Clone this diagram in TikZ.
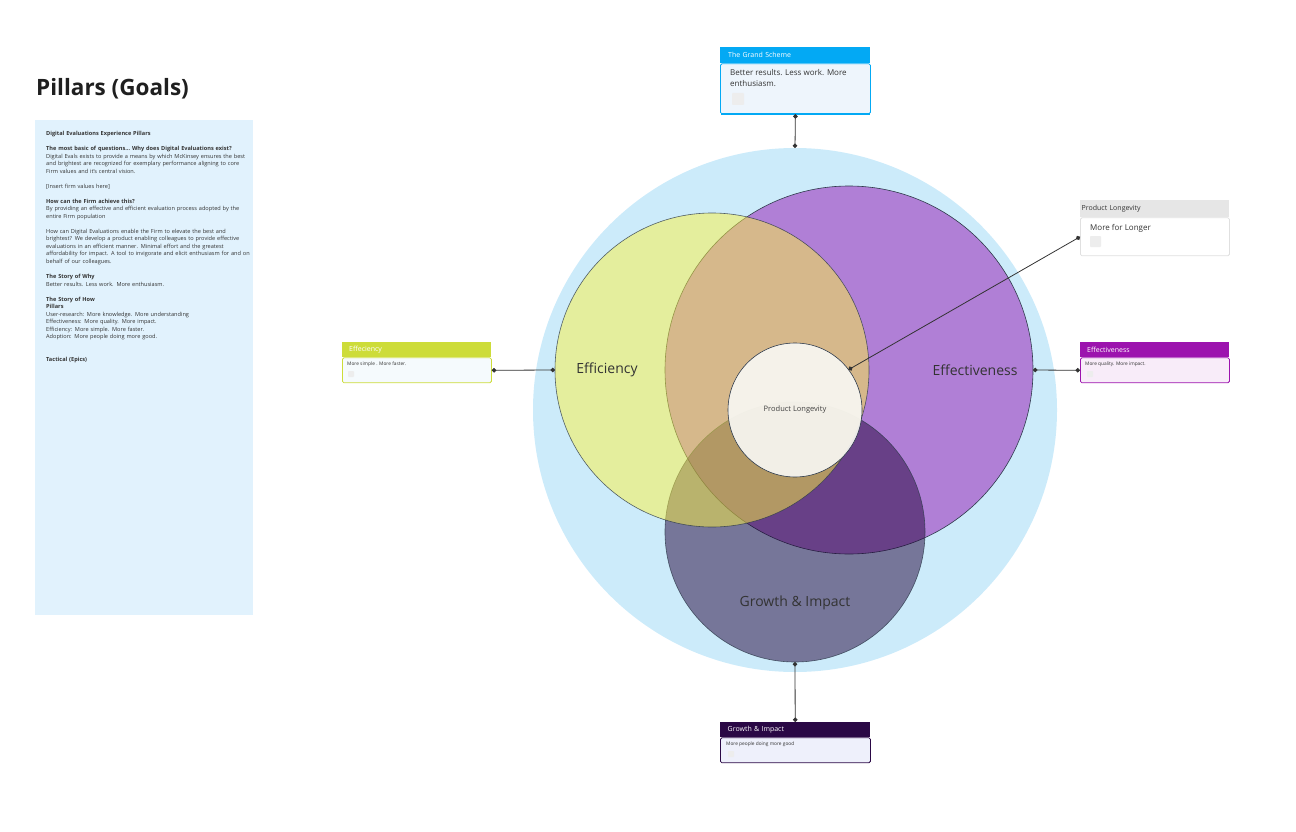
\documentclass[tikz,border=0pt]{standalone}
\usepackage{fontspec}
\setmainfont{Open Sans}
\usetikzlibrary{arrows.meta,positioning}
\definecolor{sky}{HTML}{CCEBFA}
\definecolor{lilac}{HTML}{B07FD6}
\definecolor{lime}{HTML}{FCF142}
\definecolor{plum}{HTML}{22033A}
\definecolor{ink}{HTML}{333333}
\definecolor{rim}{HTML}{2F3B4C}
\definecolor{panel}{HTML}{E1F2FD}
\definecolor{blueHead}{HTML}{03A9F4}
\definecolor{limeHead}{HTML}{CDDC39}
\definecolor{purpleHead}{HTML}{9C13AE}
\definecolor{plumHead}{HTML}{2A0845}
\definecolor{greyHead}{HTML}{E6E6E6}
\definecolor{blueBody}{HTML}{EEF5FC}
\definecolor{limeBody}{HTML}{F5FAFD}
\definecolor{purpleBody}{HTML}{F8ECF9}
\definecolor{plumBody}{HTML}{EEF0FB}
\definecolor{core}{HTML}{F8F7F3}

\begin{document}
\begin{tikzpicture}[x=1pt,y=-1pt,
  ring/.style={circle,draw=rim,line width=0.6pt,inner sep=0pt,outer sep=0pt,minimum size=#1},
  pillar/.style={font=\fontsize{14}{16}\selectfont,text=ink},
  head/.style={fill=#1,anchor=north west,minimum height=15pt,inner ysep=0pt,
    inner xsep=7pt,text width=135pt,align=left,text=white,font=\fontsize{7}{8}\selectfont},
  card/.style={draw=#1,line width=0.8pt,anchor=north west,minimum width=149pt,
    minimum height=25pt,inner sep=0pt,rounded corners=1.5pt},
  note/.style={anchor=north west,inner sep=0pt,text=ink,align=left,
    font=\fontsize{4.8}{5.5}\selectfont},
  chip/.style={fill=black!7,rounded corners=0.8pt},
  link/.style={draw=ink,line width=0.8pt,{Circle[length=4.5pt]}-{Circle[length=4.5pt]}},
]
\path[use as bounding box] (0,0) rectangle (1296,832);

% left brief
\node[anchor=base west,inner sep=0pt,text=black!88,
  font=\fontsize{22.5}{26}\selectfont\bfseries] (title) at (36,96) {Pillars (Goals)};
\fill[panel] (35,120) rectangle (253,615);
\node[anchor=north west,inner sep=0pt,text width=205pt,align=left,text=ink,
  font=\fontsize{5.6}{7.53}\selectfont] (brief) at (46,131) {%
  \textbf{Digital Evaluations Experience Pillars}\\[7.53pt]
  \textbf{The most basic of questions… Why does Digital Evaluations exist?}\\
  Digital Evals exists to provide a means by which McKinsey ensures the best\\
  and brightest are recognized for exemplary performance aligning to core\\
  Firm values and it's central vision.\\[7.53pt]
  [Insert firm values here]\\[7.53pt]
  \textbf{How can the Firm achieve this?}\\
  By providing an effective and efficient evaluation process adopted by the\\
  entire Firm population\\[7.53pt]
  How can Digital Evaluations enable the Firm to elevate the best and\\
  brightest? We develop a product enabling colleagues to provide effective\\
  evaluations in an efficient manner. Minimal effort and the greatest\\
  affordability for impact. A tool to invigorate and elicit enthusiasm for and on\\
  behalf of our colleagues.\\[7.53pt]
  \textbf{The Story of Why}\\
  Better results. Less work. More enthusiasm.\\[7.53pt]
  \textbf{The Story of How}\\
  \textbf{Pillars}\\
  User-research: More knowledge. More understanding\\
  Effectiveness: More quality. More impact.\\
  Efficiency: More simple. More faster.\\
  Adoption: More people doing more good.\\[15.06pt]
  \textbf{Tactical (Epics)}};

% circles
\node[ring=524pt,draw=none,fill=sky] (scheme) at (795,410) {};
\node[ring=368pt,fill=lilac] (effect) at (849,370) {};
\node[ring=260pt,fill=plum,fill opacity=0.5,draw opacity=0.8] (growth) at (795,532) {};
\node[ring=314pt,fill=lime,fill opacity=0.5,draw opacity=0.8] (effic) at (712,370) {};
\node[ring=134pt,fill=core,fill opacity=0.92,text=ink,
  font=\fontsize{7.5}{9}\selectfont] (core) at (795,410) {Product Longevity};
\node[pillar] (efficLbl) at (607,370) {Efficiency};
\node[pillar] (effectLbl) at (975,370) {Effectiveness};
\node[pillar] (growthLbl) at (795,603) {Growth \& Impact};

% the grand scheme
\node[head=blueHead,minimum height=16pt,inner xsep=8pt,text width=134pt] (grandHead) at (720,47) {The Grand Scheme};
\node[card=blueHead,fill=blueBody,minimum width=150pt,minimum height=50pt] (grandBody) at (grandHead.south west) {};
\draw[blueHead,line width=1.6pt] ([xshift=1pt]grandBody.south west) -- ([xshift=-1pt]grandBody.south east);
\node[note,font=\fontsize{8}{11}\selectfont,below right=6pt and 10pt of grandBody.north west] (grandText) {Better results. Less work. More\\enthusiasm.};
\fill[chip] (732,93) rectangle ++(12,12);

% product longevity
\node[head=greyHead,minimum height=17pt,inner xsep=1.5pt,text width=146pt,text=ink] (plHead) at (1080,200) {Product Longevity};
\node[card=black!12,fill=white,minimum height=38pt] (plBody) at (plHead.south west) {};
\node[note,font=\fontsize{8}{10}\selectfont,below right=6.5pt and 10pt of plBody.north west] (plText) {More for Longer};
\fill[chip] (1090,236) rectangle ++(11,11);

% efficiency
\node[head=limeHead] (efficHead) at (342,342) {Effeciency};
\node[card=limeHead,fill=limeBody] (efficBody) at (efficHead.south west) {};
\node[note,below right=4.5pt and 5pt of efficBody.north west] (efficText) {More simple . More faster.};
\fill[chip] (348,371) rectangle ++(6,6);

% effectiveness
\node[head=purpleHead] (effectHead) at (1080,342) {Effectiveness};
\node[card=purpleHead,fill=purpleBody] (effectBody) at (effectHead.south west) {};
\node[note,below right=4.5pt and 5pt of effectBody.north west] (effectText) {More quality. More impact.};
\fill[chip] (1087,371) rectangle ++(6,6);

% growth & impact
\node[head=plumHead,minimum width=150pt] (growthHead) at (720,722) {Growth \& Impact};
\node[card=plumHead,fill=plumBody,minimum width=150pt] (growthBody) at (growthHead.south west) {};
\node[note,below right=4.5pt and 6pt of growthBody.north west] (growthText) {More people doing more good};
\fill[chip] (728,751) rectangle ++(6,6);

% connectors
\draw[link] (grandBody.south) -- (scheme.north);
\draw[link] (efficBody.east) -- (effic.west);
\draw[link] (effect.east) -- (effectBody.west);
\draw[link] (core.37) -- (plBody.west);
\draw[link] (growth.south) -- (growthHead.north);
\end{tikzpicture}
\end{document}
